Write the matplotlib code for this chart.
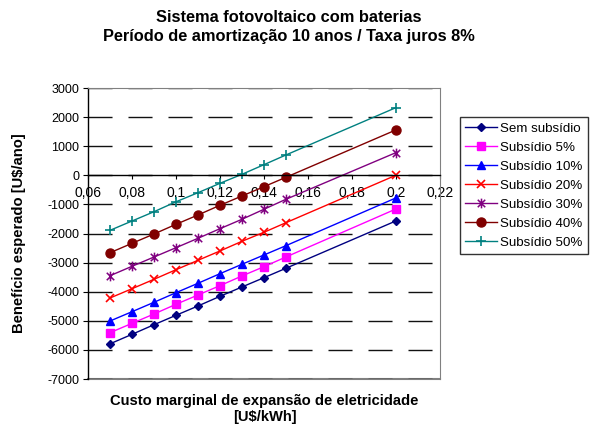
import matplotlib.pyplot as plt
from matplotlib.path import Path

plt.rcParams["font.family"] = ["Liberation Sans", "DejaVu Sans"]
plt.rcParams["axes.unicode_minus"] = False

# Custo marginal (U$/kWh) e beneficio esperado (U$/ano) por cenario de subsidio
custo = [0.07, 0.08, 0.09, 0.10, 0.11, 0.12, 0.13, 0.14, 0.15, 0.20]
sem_subsidio = [-5790, -5465, -5134, -4811, -4491, -4159, -3838, -3519, -3196, -1570]
subsidio_5 = [-5408, -5087, -4766, -4433, -4113, -3793, -3460, -3141, -2808, -1160]
subsidio_10 = [-5007, -4687, -4364, -4034, -3711, -3381, -3058, -2739, -2419, -780]
subsidio_20 = [-4216, -3897, -3574, -3244, -2921, -2601, -2268, -1959, -1629, 0]
subsidio_30 = [-3450, -3127, -2808, -2488, -2165, -1835, -1512, -1168, -825, 777]
subsidio_40 = [-2660, -2337, -2017, -1684, -1364, -1031, -711, -392, -69, 1557]
subsidio_50 = [-1890, -1570, -1251, -910, -598, -275, 34, 364, 698, 2323]

nomes = ["Sem subsídio", "Subsídio 5%", "Subsídio 10%", "Subsídio 20%",
         "Subsídio 30%", "Subsídio 40%", "Subsídio 50%"]
series = [sem_subsidio, subsidio_5, subsidio_10, subsidio_20,
          subsidio_30, subsidio_40, subsidio_50]

# asterisco estilo Excel: um x com um traco vertical
estrela = Path([(-1, -1), (1, 1), (-1, 1), (1, -1), (0, -1.3), (0, 1.3)],
               [Path.MOVETO, Path.LINETO, Path.MOVETO, Path.LINETO,
                Path.MOVETO, Path.LINETO])

estilos = [
    dict(color="#000080", marker="D", ms=4.5),
    dict(color="#FF00FF", marker="s", ms=5.5),
    dict(color="#0000FF", marker="^", ms=6),
    dict(color="#FF0000", marker="x", ms=6, mew=1.2),
    dict(color="#800080", marker=estrela, ms=7, mew=1.1),
    dict(color="#800000", marker="o", ms=6.5),
    dict(color="#008080", marker="+", ms=7, mew=1.2),
]

fig = plt.figure(figsize=(5.95, 4.30), dpi=100)
ax = fig.add_axes([0.148, 0.1186, 0.591, 0.6767])

for nome, valores, est in zip(nomes, series, estilos):
    ax.plot(custo, valores, lw=1, label=nome, **est)

ax.set_xlim(0.06, 0.22)
ax.set_ylim(-7000, 3000)
ax.set_xticks([0.06, 0.08, 0.10, 0.12, 0.14, 0.16, 0.18, 0.20, 0.22])
ax.set_xticklabels(["0,06", "0,08", "0,1", "0,12", "0,14", "0,16",
                    "0,18", "0,2", "0,22"], fontsize=9)
ax.set_yticks(range(-7000, 3001, 1000))
ax.tick_params(axis="y", labelsize=9, length=3.5, direction="out", pad=3)
ax.tick_params(axis="x", length=3, direction="out", pad=5)

ax.yaxis.grid(True, color="#111111", lw=1, linestyle=(0, (17.3, 11.5)))
ax.set_axisbelow(True)

# eixo x cruzando em zero
ax.spines["bottom"].set_position(("data", 0))
ax.spines["bottom"].set_linewidth(1)
ax.spines["left"].set_linewidth(1)
ax.spines["top"].set_color("#808080")
ax.spines["right"].set_color("#808080")
# borda inferior da area do grafico
ax.axhline(-7000, color="#808080", lw=1.5, clip_on=False, zorder=0)

fig.text(0.486, 1 - 10 / 430, "Sistema fotovoltaico com baterias\n"
         "Período de amortização 10 anos / Taxa juros 8%",
         ha="center", va="top", fontsize=11.8, fontweight="bold",
         linespacing=1.35)
fig.text(19 / 595, 1 - 233 / 430, "Benefício esperado [U$/ano]",
         rotation=90, ha="center", va="center", fontsize=10.6,
         fontweight="bold")
fig.text(264.5 / 595, 1 - 409 / 430,
         "Custo marginal de expansão de eletricidade\n[U$/kWh]",
         ha="center", va="center", fontsize=10.6, fontweight="bold",
         linespacing=1.25)

leg = fig.legend(loc="upper left", bbox_to_anchor=(460 / 595, 1 - 117 / 430),
                 fontsize=9.6, frameon=True, fancybox=False,
                 edgecolor="black", handlelength=2.4, borderpad=0.4,
                 labelspacing=0.5, handletextpad=0.2, borderaxespad=0)
leg.get_frame().set_linewidth(1)

fig.savefig("out.png", dpi=100)
